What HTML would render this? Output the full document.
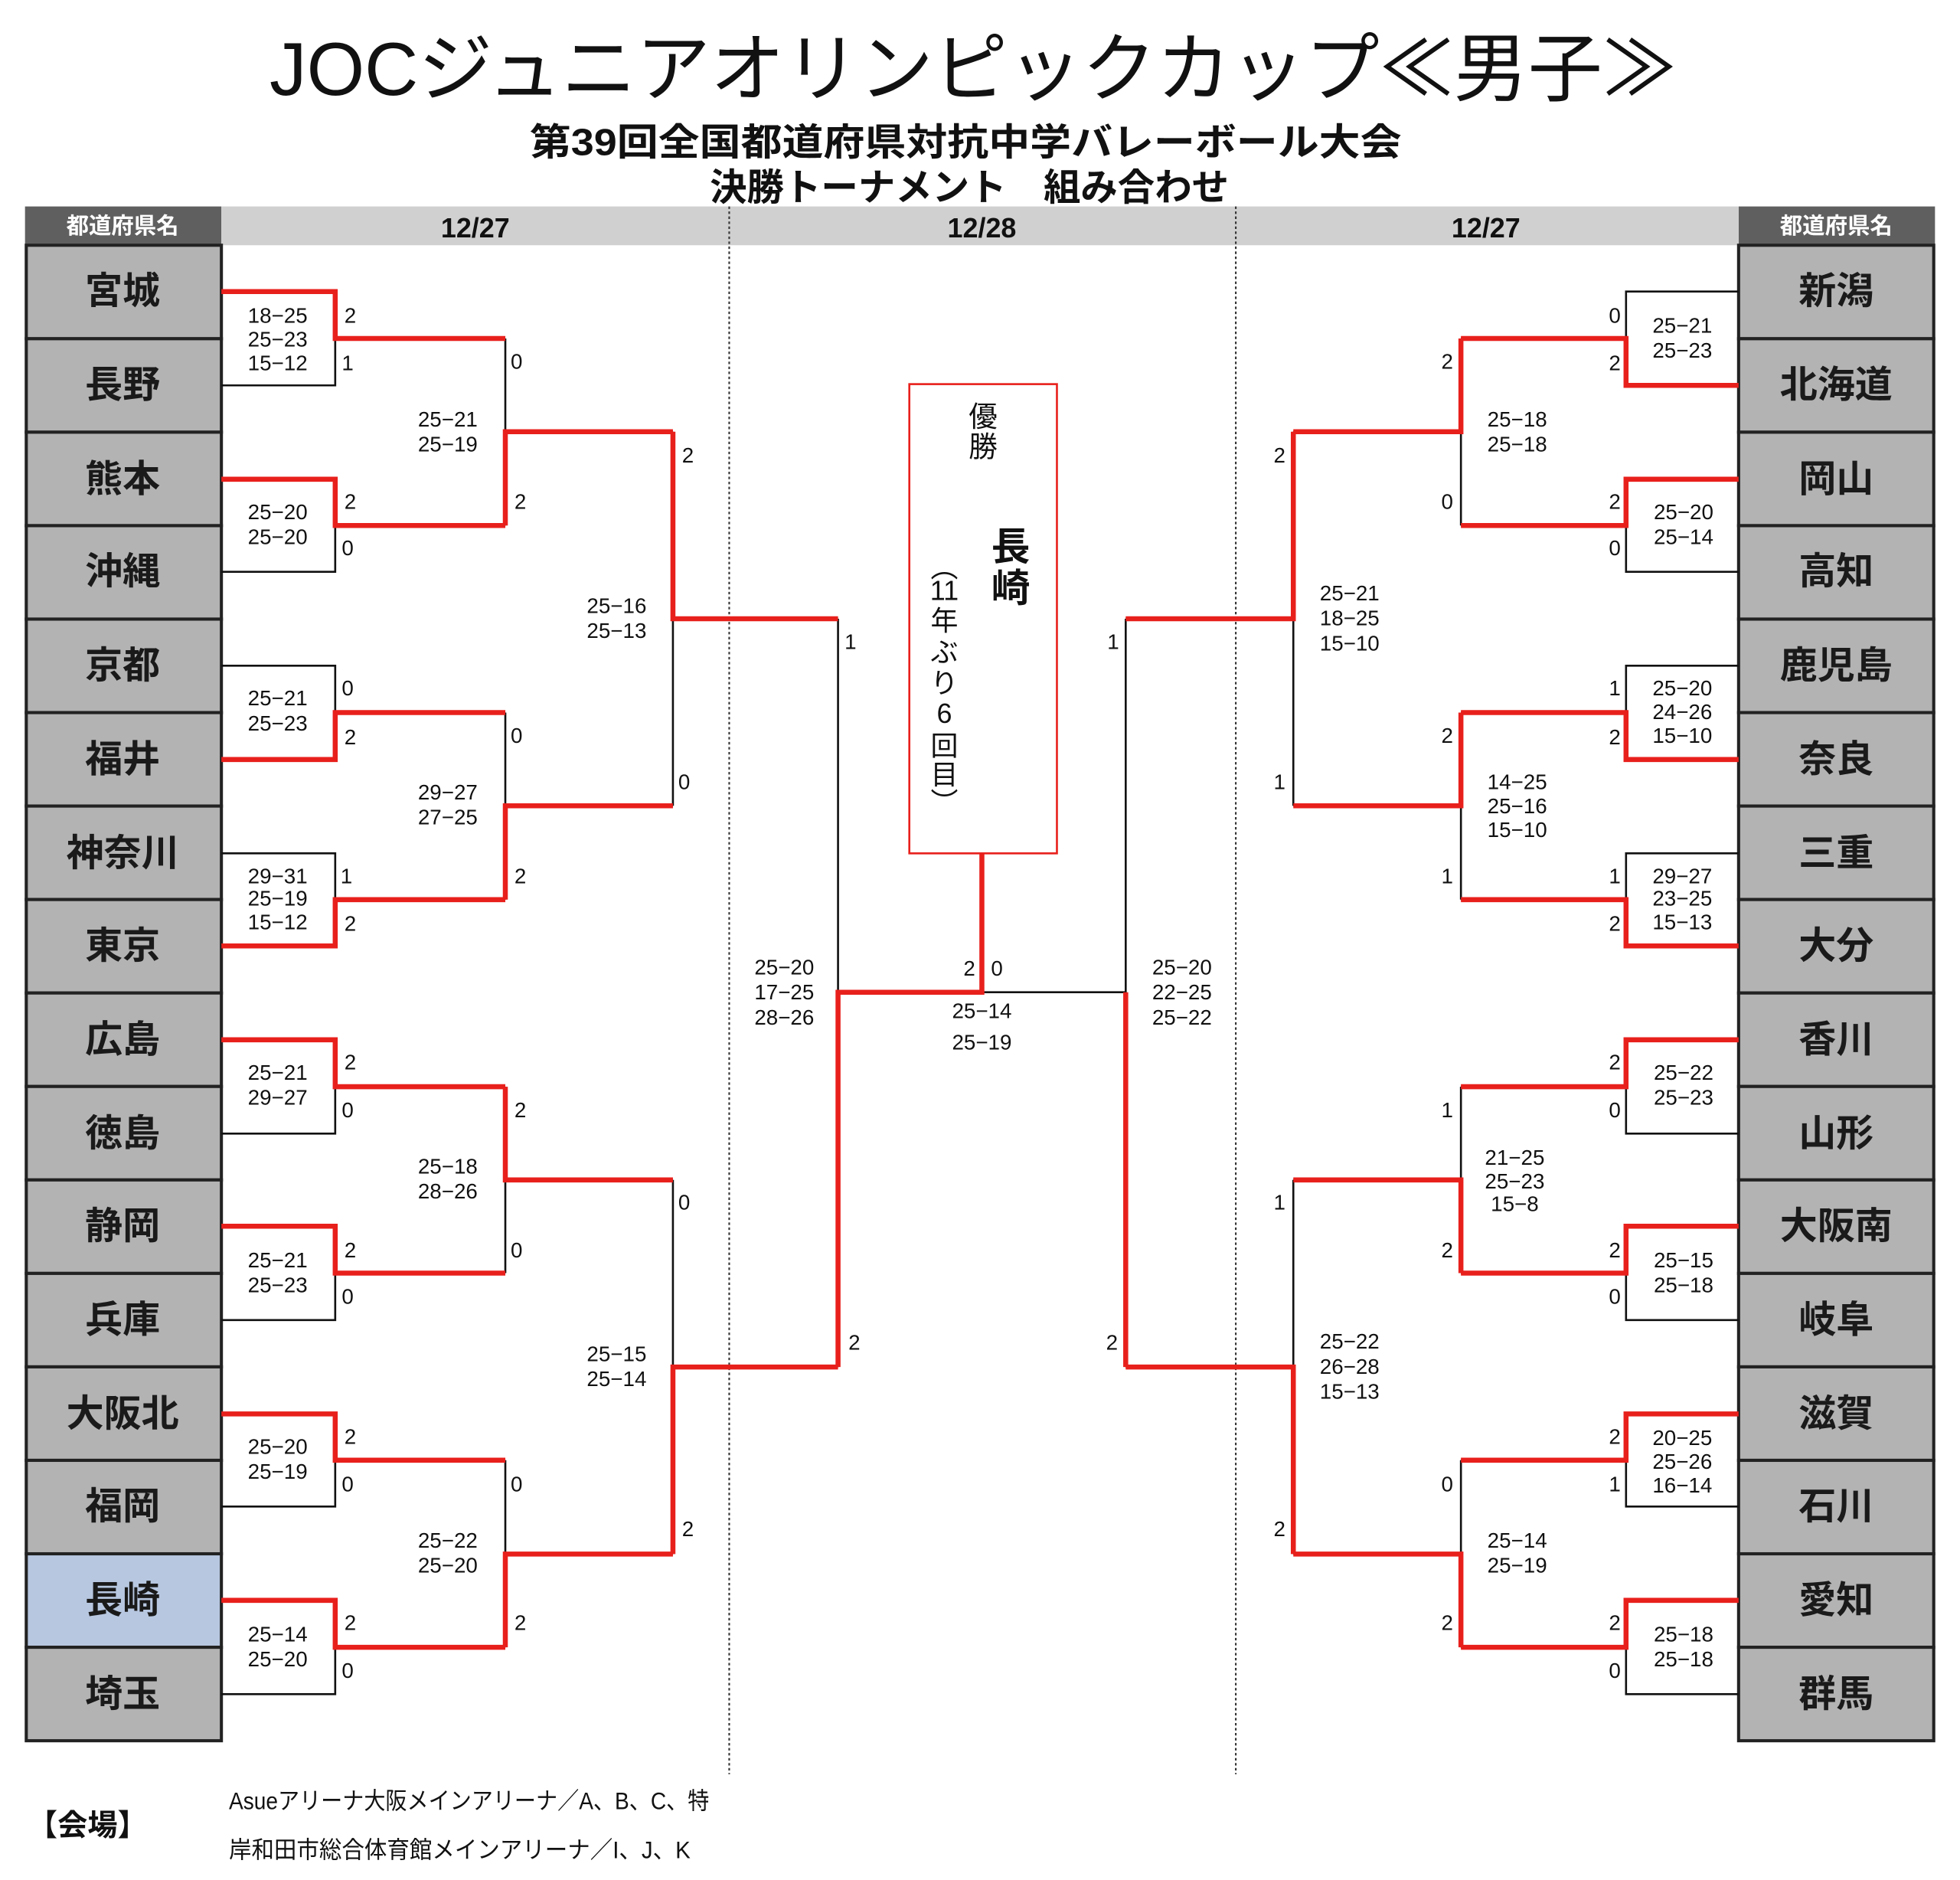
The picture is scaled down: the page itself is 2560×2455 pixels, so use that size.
<!DOCTYPE html>
<html><head><meta charset="utf-8"><style>
html,body{margin:0;padding:0;background:#fff;}
svg{display:block;}
.t{font-family:"Liberation Sans","Noto Sans CJK JP",sans-serif;}
.s{font-family:"Liberation Sans",sans-serif;font-size:17px;fill:#111;text-anchor:middle;dominant-baseline:central;}
.n{font-family:"Liberation Sans","Noto Sans CJK JP",sans-serif;font-size:30px;font-weight:bold;fill:#1a1a1a;text-anchor:middle;dominant-baseline:central;}
</style></head><body>
<svg width="2560" height="2455" viewBox="0 0 1567 1502.5" preserveAspectRatio="none" xmlns="http://www.w3.org/2000/svg">
<rect width="1567" height="1502.5" fill="#fff"/>
<!-- titles -->
<text class="t" x="778" y="76" font-size="60" text-anchor="middle" textLength="1125" lengthAdjust="spacingAndGlyphs" fill="#111">JOCジュニアオリンピックカップ≪男子≫</text>
<text class="t" x="772" y="124" font-size="30" font-weight="bold" text-anchor="middle" textLength="697" lengthAdjust="spacingAndGlyphs" fill="#111">第39回全国都道府県対抗中学バレーボール大会</text>
<text class="t" x="775" y="160" font-size="30" font-weight="bold" text-anchor="middle" textLength="415" lengthAdjust="spacingAndGlyphs" fill="#111">決勝トーナメント　組み合わせ</text>
<!-- header -->
<rect x="20" y="165" width="157" height="31" fill="#5f5f5f"/>
<rect x="1390" y="165" width="157" height="31" fill="#5f5f5f"/>
<rect x="177" y="165" width="1213" height="31" fill="#d0d0d0"/>
<text class="t" x="98" y="181" font-size="18" font-weight="bold" fill="#fff" text-anchor="middle" dominant-baseline="central">都道府県名</text>
<text class="t" x="1468" y="181" font-size="18" font-weight="bold" fill="#fff" text-anchor="middle" dominant-baseline="central">都道府県名</text>
<text class="t" x="380" y="182" font-size="22" font-weight="bold" fill="#111" text-anchor="middle" dominant-baseline="central">12/27</text>
<text class="t" x="785" y="182" font-size="22" font-weight="bold" fill="#111" text-anchor="middle" dominant-baseline="central">12/28</text>
<text class="t" x="1188" y="182" font-size="22" font-weight="bold" fill="#111" text-anchor="middle" dominant-baseline="central">12/27</text>
<line x1="583" y1="165" x2="583" y2="1418" stroke="#333" stroke-width="1.3" stroke-dasharray="2,2"/>
<line x1="988" y1="165" x2="988" y2="1418" stroke="#333" stroke-width="1.3" stroke-dasharray="2,2"/>
<!-- name cells -->
<g stroke="#222" stroke-width="2.5" fill="#b3b3b3">
<rect x="21" y="196" width="156" height="74.7"/><rect x="21" y="270.7" width="156" height="74.7"/><rect x="21" y="345.4" width="156" height="74.7"/><rect x="21" y="420.1" width="156" height="74.7"/>
<rect x="21" y="494.8" width="156" height="74.7"/><rect x="21" y="569.5" width="156" height="74.7"/><rect x="21" y="644.2" width="156" height="74.7"/><rect x="21" y="718.9" width="156" height="74.7"/>
<rect x="21" y="793.6" width="156" height="74.7"/><rect x="21" y="868.3" width="156" height="74.7"/><rect x="21" y="943" width="156" height="74.7"/><rect x="21" y="1017.7" width="156" height="74.7"/>
<rect x="21" y="1092.4" width="156" height="74.7"/><rect x="21" y="1167.1" width="156" height="74.7"/><rect x="21" y="1241.8" width="156" height="74.7" fill="#b7c7e0"/><rect x="21" y="1316.5" width="156" height="74.7"/>
<rect x="1390" y="196" width="156" height="74.7"/><rect x="1390" y="270.7" width="156" height="74.7"/><rect x="1390" y="345.4" width="156" height="74.7"/><rect x="1390" y="420.1" width="156" height="74.7"/>
<rect x="1390" y="494.8" width="156" height="74.7"/><rect x="1390" y="569.5" width="156" height="74.7"/><rect x="1390" y="644.2" width="156" height="74.7"/><rect x="1390" y="718.9" width="156" height="74.7"/>
<rect x="1390" y="793.6" width="156" height="74.7"/><rect x="1390" y="868.3" width="156" height="74.7"/><rect x="1390" y="943" width="156" height="74.7"/><rect x="1390" y="1017.7" width="156" height="74.7"/>
<rect x="1390" y="1092.4" width="156" height="74.7"/><rect x="1390" y="1167.1" width="156" height="74.7"/><rect x="1390" y="1241.8" width="156" height="74.7"/><rect x="1390" y="1316.5" width="156" height="74.7"/>
</g>
<g class="n">
<text class="n" x="98" y="233">宮城</text><text class="n" x="98" y="308">長野</text><text class="n" x="98" y="383">熊本</text><text class="n" x="98" y="457">沖縄</text>
<text class="n" x="98" y="532">京都</text><text class="n" x="98" y="607">福井</text><text class="n" x="98" y="682">神奈川</text><text class="n" x="98" y="756">東京</text>
<text class="n" x="98" y="831">広島</text><text class="n" x="98" y="906">徳島</text><text class="n" x="98" y="980">静岡</text><text class="n" x="98" y="1055">兵庫</text>
<text class="n" x="98" y="1130">大阪北</text><text class="n" x="98" y="1204">福岡</text><text class="n" x="98" y="1279">長崎</text><text class="n" x="98" y="1354">埼玉</text>
<text class="n" x="1468" y="233">新潟</text><text class="n" x="1468" y="308">北海道</text><text class="n" x="1468" y="383">岡山</text><text class="n" x="1468" y="457">高知</text>
<text class="n" x="1468" y="532">鹿児島</text><text class="n" x="1468" y="607">奈良</text><text class="n" x="1468" y="682">三重</text><text class="n" x="1468" y="756">大分</text>
<text class="n" x="1468" y="831">香川</text><text class="n" x="1468" y="906">山形</text><text class="n" x="1468" y="980">大阪南</text><text class="n" x="1468" y="1055">岐阜</text>
<text class="n" x="1468" y="1130">滋賀</text><text class="n" x="1468" y="1204">石川</text><text class="n" x="1468" y="1279">愛知</text><text class="n" x="1468" y="1354">群馬</text>
</g>
<!-- black bracket -->
<path fill="none" stroke="#111" stroke-width="1.6" d="
M177 233H268V308H177M268 270.5H404
M177 383H268V457H177M268 420H404
M177 532H268V607H177M268 569.5H404
M177 682H268V756H177M268 719H404
M177 831H268V906H177M268 868.5H404
M177 980H268V1055H177M268 1017.5H404
M177 1130H268V1204H177M268 1167H404
M177 1279H268V1354H177M268 1316.5H404
M404 270.5V420M404 345H538M404 569.5V719M404 644H538M404 868.5V1017.5M404 943H538M404 1167V1316.5M404 1242H538
M538 345V644M538 494.5H670M538 943V1242M538 1092.5H670
M670 494.5V1092.5M670 793H900M900 494.5V1092.5
M1390 233H1300V308H1390M1300 270.5H1168
M1390 383H1300V457H1390M1300 420H1168
M1390 532H1300V607H1390M1300 569.5H1168
M1390 682H1300V756H1390M1300 719H1168
M1390 831H1300V906H1390M1300 868.5H1168
M1390 980H1300V1055H1390M1300 1017.5H1168
M1390 1130H1300V1204H1390M1300 1167H1168
M1390 1279H1300V1354H1390M1300 1316.5H1168
M1168 270.5V420M1168 345H1034M1168 569.5V719M1168 644H1034M1168 868.5V1017.5M1168 943H1034M1168 1167V1316.5M1168 1242H1034
M1034 345V644M1034 494.5H900M1034 943V1242M1034 1092.5H900"/>
<!-- red winners -->
<path fill="none" stroke="#e8201c" stroke-width="4" stroke-linejoin="miter" d="
M177 233H268V270.5H404
M177 383H268V420H404
M177 607H268V569.5H404
M177 756H268V719H404
M177 831H268V868.5H404
M177 980H268V1017.5H404
M177 1130H268V1167H404
M177 1279H268V1316.5H404
M404 420V345H538M404 719V644H538M404 868.5V943H538M404 1316.5V1242H538
M538 345V494.5H670M538 1242V1092.5H670
M670 1092.5V793H785V682
M1390 308H1300V270.5H1168
M1390 383H1300V420H1168
M1390 607H1300V569.5H1168
M1390 756H1300V719H1168
M1390 831H1300V868.5H1168
M1390 980H1300V1017.5H1168
M1390 1130H1300V1167H1168
M1390 1279H1300V1316.5H1168
M1168 270.5V345H1034M1168 569.5V644H1034M1168 1017.5V943H1034M1168 1316.5V1242H1034
M1034 345V494.5H900M1034 1242V1092.5H900
M900 1092.5V793"/>
<!-- champion box -->
<rect x="727" y="307" width="118" height="375" fill="#fff" stroke="#e8201c" stroke-width="1.6"/>
<text class="t" x="786" y="333" font-size="23" fill="#111" text-anchor="middle" dominant-baseline="central">優</text>
<text class="t" x="786" y="357" font-size="23" fill="#111" text-anchor="middle" dominant-baseline="central">勝</text>
<text class="t" x="808" y="437" font-size="31" font-weight="bold" fill="#111" text-anchor="middle" dominant-baseline="central">長</text>
<text class="t" x="808" y="470" font-size="31" font-weight="bold" fill="#111" text-anchor="middle" dominant-baseline="central">崎</text>
<g class="t" font-size="22" fill="#111" text-anchor="middle" dominant-baseline="central">
<text x="755" y="452" font-family="Noto Sans CJK JP">︵</text>
<text x="755" y="472" font-family="Liberation Sans">11</text>
<text x="755" y="496">年</text>
<text x="755" y="521">ぶ</text>
<text x="755" y="546">り</text>
<text x="755" y="570" font-family="Liberation Sans">6</text>
<text x="755" y="596">回</text>
<text x="755" y="619">目</text>
<text x="755" y="640" font-family="Noto Sans CJK JP">︶</text>
</g>
<!-- scores left R1 -->
<g class="s">
<text class="s" x="222" y="252">18−25</text><text class="s" x="222" y="271">25−23</text><text class="s" x="222" y="290">15−12</text>
<text class="s" x="222" y="409">25−20</text><text class="s" x="222" y="429">25−20</text>
<text class="s" x="222" y="558">25−21</text><text class="s" x="222" y="578">25−23</text>
<text class="s" x="222" y="700">29−31</text><text class="s" x="222" y="718">25−19</text><text class="s" x="222" y="737">15−12</text>
<text class="s" x="222" y="857">25−21</text><text class="s" x="222" y="877">29−27</text>
<text class="s" x="222" y="1007">25−21</text><text class="s" x="222" y="1027">25−23</text>
<text class="s" x="222" y="1156">25−20</text><text class="s" x="222" y="1176">25−19</text>
<text class="s" x="222" y="1306">25−14</text><text class="s" x="222" y="1326">25−20</text>
<text class="s" x="280" y="252">2</text><text class="s" x="278" y="290">1</text>
<text class="s" x="280" y="401">2</text><text class="s" x="278" y="438">0</text>
<text class="s" x="278" y="550">0</text><text class="s" x="280" y="589">2</text>
<text class="s" x="277" y="700">1</text><text class="s" x="280" y="738">2</text>
<text class="s" x="280" y="849">2</text><text class="s" x="278" y="887">0</text>
<text class="s" x="280" y="999">2</text><text class="s" x="278" y="1036">0</text>
<text class="s" x="280" y="1148">2</text><text class="s" x="278" y="1186">0</text>
<text class="s" x="280" y="1297">2</text><text class="s" x="278" y="1335">0</text>
<!-- left R2 -->
<text class="s" x="358" y="335">25−21</text><text class="s" x="358" y="355">25−19</text>
<text class="s" x="358" y="633">29−27</text><text class="s" x="358" y="653">27−25</text>
<text class="s" x="358" y="932">25−18</text><text class="s" x="358" y="952">28−26</text>
<text class="s" x="358" y="1231">25−22</text><text class="s" x="358" y="1251">25−20</text>
<text class="s" x="413" y="289">0</text><text class="s" x="416" y="401">2</text>
<text class="s" x="413" y="588">0</text><text class="s" x="416" y="700">2</text>
<text class="s" x="416" y="887">2</text><text class="s" x="413" y="999">0</text>
<text class="s" x="413" y="1186">0</text><text class="s" x="416" y="1297">2</text>
<!-- left R3 -->
<text class="s" x="493" y="484">25−16</text><text class="s" x="493" y="504">25−13</text>
<text class="s" x="493" y="1082">25−15</text><text class="s" x="493" y="1102">25−14</text>
<text class="s" x="550" y="364">2</text><text class="s" x="547" y="625">0</text>
<text class="s" x="547" y="961">0</text><text class="s" x="550" y="1222">2</text>
<!-- semis -->
<text class="s" x="627" y="773">25−20</text><text class="s" x="627" y="793">17−25</text><text class="s" x="627" y="813">28−26</text>
<text class="s" x="680" y="513">1</text><text class="s" x="683" y="1073">2</text>
<text class="s" x="945" y="773">25−20</text><text class="s" x="945" y="793">22−25</text><text class="s" x="945" y="813">25−22</text>
<text class="s" x="890" y="513">1</text><text class="s" x="889" y="1073">2</text>
<text class="s" x="775" y="774">2</text><text class="s" x="797" y="774">0</text>
<text class="s" x="785" y="808" font-size="21">25−14</text><text class="s" x="785" y="833" font-size="21">25−19</text>
<!-- right R3 -->
<text class="s" x="1079" y="474">25−21</text><text class="s" x="1079" y="494">18−25</text><text class="s" x="1079" y="514">15−10</text>
<text class="s" x="1079" y="1072">25−22</text><text class="s" x="1079" y="1092">26−28</text><text class="s" x="1079" y="1112">15−13</text>
<text class="s" x="1023" y="364">2</text><text class="s" x="1023" y="625">1</text>
<text class="s" x="1023" y="961">1</text><text class="s" x="1023" y="1222">2</text>
<!-- right R2 -->
<text class="s" x="1213" y="335">25−18</text><text class="s" x="1213" y="355">25−18</text>
<text class="s" x="1213" y="625">14−25</text><text class="s" x="1213" y="644">25−16</text><text class="s" x="1213" y="663">15−10</text>
<text class="s" x="1211" y="925">21−25</text><text class="s" x="1211" y="944">25−23</text><text class="s" x="1211" y="962">15−8</text>
<text class="s" x="1213" y="1231">25−14</text><text class="s" x="1213" y="1251">25−19</text>
<text class="s" x="1157" y="289">2</text><text class="s" x="1157" y="401">0</text>
<text class="s" x="1157" y="588">2</text><text class="s" x="1157" y="700">1</text>
<text class="s" x="1157" y="887">1</text><text class="s" x="1157" y="999">2</text>
<text class="s" x="1157" y="1186">0</text><text class="s" x="1157" y="1297">2</text>
<!-- right R1 -->
<text class="s" x="1345" y="260">25−21</text><text class="s" x="1345" y="280">25−23</text>
<text class="s" x="1346" y="409">25−20</text><text class="s" x="1346" y="429">25−14</text>
<text class="s" x="1345" y="550">25−20</text><text class="s" x="1345" y="569">24−26</text><text class="s" x="1345" y="588">15−10</text>
<text class="s" x="1345" y="700">29−27</text><text class="s" x="1345" y="718">23−25</text><text class="s" x="1345" y="737">15−13</text>
<text class="s" x="1346" y="857">25−22</text><text class="s" x="1346" y="877">25−23</text>
<text class="s" x="1346" y="1007">25−15</text><text class="s" x="1346" y="1027">25−18</text>
<text class="s" x="1345" y="1149">20−25</text><text class="s" x="1345" y="1168">25−26</text><text class="s" x="1345" y="1187">16−14</text>
<text class="s" x="1346" y="1306">25−18</text><text class="s" x="1346" y="1326">25−18</text>
<text class="s" x="1291" y="252">0</text><text class="s" x="1291" y="290">2</text>
<text class="s" x="1291" y="401">2</text><text class="s" x="1291" y="438">0</text>
<text class="s" x="1291" y="550">1</text><text class="s" x="1291" y="589">2</text>
<text class="s" x="1291" y="700">1</text><text class="s" x="1291" y="738">2</text>
<text class="s" x="1291" y="849">2</text><text class="s" x="1291" y="887">0</text>
<text class="s" x="1291" y="999">2</text><text class="s" x="1291" y="1036">0</text>
<text class="s" x="1291" y="1148">2</text><text class="s" x="1291" y="1186">1</text>
<text class="s" x="1291" y="1297">2</text><text class="s" x="1291" y="1335">0</text>
</g>
<!-- footer -->
<text class="t" x="22" y="1467" font-size="24" font-weight="bold" fill="#111">【会場】</text>
<text class="t" x="183" y="1446" font-size="19" fill="#111" textLength="384" lengthAdjust="spacingAndGlyphs">Asueアリーナ大阪メインアリーナ／A、B、C、特</text>
<text class="t" x="183" y="1485" font-size="19" fill="#111" textLength="369" lengthAdjust="spacingAndGlyphs">岸和田市総合体育館メインアリーナ／I、J、K</text>
</svg>
</body></html>
